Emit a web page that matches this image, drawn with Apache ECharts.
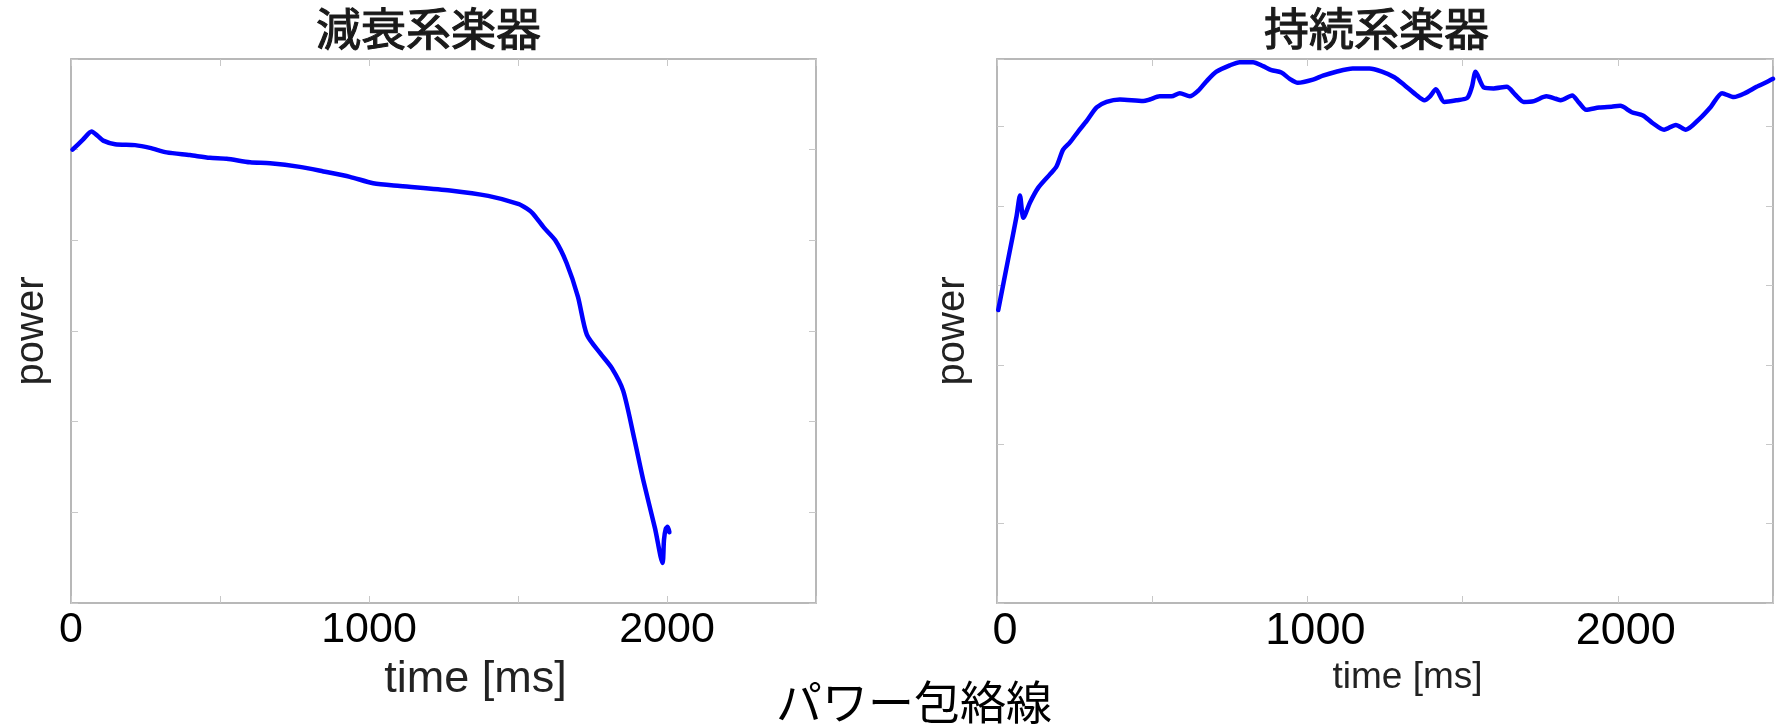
<!DOCTYPE html>
<html>
<head>
<meta charset="utf-8">
<script src="https://cdn.jsdelivr.net/npm/echarts@6/dist/echarts.min.js"></script>
<style>
html,body{margin:0;padding:0;background:#fff;}
#c{width:1776px;height:725px;}
</style>
</head>
<body>
<div id="c"></div>
<script>
// ---- data ----
const leftTitle = '減衰系楽器';
const rightTitle = '持続系楽器';
const mainTitle = 'パワー包絡線';
const xName = 'time [ms]';
const yName = 'power';
const xTicks = [0, 500, 1000, 1500, 2000, 2500];
const xLabelValues = [0, 1000, 2000];

const decayTime  = [5, 40, 69, 90, 108, 148, 215, 265, 321, 399, 466, 522, 601, 668, 768, 847, 936, 1014, 1104, 1272, 1400, 1503, 1530, 1549, 1587, 1625, 1663, 1701, 1731, 1777, 1815, 1853, 1891, 1920, 1960, 1985, 1990, 1996, 2002, 2008];
const decayPower = [5.00, 5.11, 5.20, 5.15, 5.10, 5.06, 5.05, 5.02, 4.97, 4.94, 4.91, 4.90, 4.86, 4.85, 4.81, 4.76, 4.70, 4.63, 4.60, 4.55, 4.49, 4.40, 4.35, 4.30, 4.14, 4.00, 3.75, 3.38, 2.96, 2.75, 2.59, 2.34, 1.80, 1.36, 0.82, 0.44, 0.70, 0.82, 0.84, 0.78];

const sustainTime  = [4, 36, 63, 74, 85, 106, 133, 171, 192, 213, 235, 262, 289, 321, 353, 396, 471, 492, 524, 562, 589, 621, 648, 675, 707, 750, 782, 825, 857, 884, 916, 943, 969, 1018, 1050, 1093, 1146, 1200, 1240, 1280, 1313, 1350, 1377, 1395, 1414, 1441, 1480, 1515, 1530, 1542, 1569, 1600, 1642, 1670, 1697, 1730, 1770, 1800, 1816, 1853, 1875, 1898, 1940, 1980, 2008, 2045, 2081, 2110, 2149, 2187, 2219, 2264, 2300, 2336, 2374, 2410, 2447, 2480, 2500];
const sustainPower = [3.69, 4.33, 4.87, 5.13, 4.85, 5.04, 5.23, 5.40, 5.50, 5.71, 5.80, 5.94, 6.07, 6.24, 6.31, 6.34, 6.32, 6.34, 6.38, 6.38, 6.42, 6.38, 6.45, 6.57, 6.69, 6.77, 6.81, 6.81, 6.76, 6.71, 6.68, 6.60, 6.55, 6.59, 6.64, 6.69, 6.73, 6.73, 6.69, 6.62, 6.52, 6.40, 6.33, 6.38, 6.47, 6.31, 6.33, 6.36, 6.50, 6.69, 6.49, 6.48, 6.50, 6.40, 6.31, 6.32, 6.38, 6.35, 6.33, 6.39, 6.30, 6.21, 6.24, 6.25, 6.26, 6.18, 6.14, 6.05, 5.96, 6.02, 5.96, 6.10, 6.25, 6.42, 6.37, 6.42, 6.50, 6.56, 6.60];

const leftYMax = 6;
const rightYMax = 6.85;

// ---- chart ----
const latin = '"Liberation Sans", Arial, Helvetica, sans-serif';
const cjk = '"Noto Sans CJK JP", "Noto Sans CJK SC", sans-serif';
const boxColor = '#b8b8b8';
const tickColor = '#c8c8c8';

function xAxisPair(grid, labelSize, labelPad, nameSize, nameGap, namePad) {
  const base = {
    type: 'value', gridIndex: grid, min: xTicks[0], max: xTicks[xTicks.length - 1],
    interval: xTicks[1] - xTicks[0],
    splitLine: {show: false},
    axisLine: {show: true, onZero: false, lineStyle: {color: boxColor, width: 2}},
    axisTick: {show: true, inside: true, length: 7, lineStyle: {color: tickColor, width: 1}}
  };
  return [
    Object.assign({}, base, {
      position: 'bottom',
      axisLabel: {
        show: true, margin: 6, fontSize: labelSize, fontFamily: latin, color: '#000',
        padding: [0, 0, 0, labelPad],
        formatter: v => xLabelValues.indexOf(v) >= 0 ? String(v) : ''
      },
      name: xName, nameLocation: 'middle', nameGap: nameGap,
      nameTextStyle: {fontSize: nameSize, fontFamily: latin, color: '#222', padding: [0, 0, 0, namePad]}
    }),
    Object.assign({}, base, {position: 'top', axisLabel: {show: false}})
  ];
}

function yAxisPair(grid, max, nameSize, nameGap) {
  const base = {
    type: 'value', gridIndex: grid, min: 0, max: max, interval: 1,
    splitLine: {show: false},
    axisLabel: {show: false},
    axisLine: {show: true, onZero: false, lineStyle: {color: boxColor, width: 2}},
    axisTick: {show: true, inside: true, length: 7, lineStyle: {color: tickColor, width: 1}}
  };
  return [
    Object.assign({}, base, {
      position: 'left',
      name: yName, nameLocation: 'middle', nameGap: nameGap,
      nameTextStyle: {fontSize: nameSize, fontFamily: latin, color: '#222'}
    }),
    Object.assign({}, base, {position: 'right'})
  ];
}

function pairs(xs, ys) { return xs.map((x, i) => [x, ys[i]]); }

const lineStyle = {color: '#0000ff', width: 4.5, cap: 'round', join: 'round'};
const subTitleStyle = {fontSize: 45, fontFamily: cjk, color: '#1a1a1a', fontWeight: 'normal',
                       textBorderColor: '#1a1a1a', textBorderWidth: 1.1};

const option = {
  animation: false,
  backgroundColor: '#ffffff',
  title: [
    {text: leftTitle, left: 316, top: 6, padding: 0, textStyle: subTitleStyle},
    {text: rightTitle, left: 1264, top: 6, padding: 0, textStyle: subTitleStyle},
    {text: mainTitle, left: 776, top: 679, padding: 0,
     textStyle: {fontSize: 46, fontFamily: cjk, color: '#000', fontWeight: 'normal'}}
  ],
  grid: [
    {left: 71, top: 59, width: 745, height: 544, containLabel: false},
    {left: 997, top: 59, width: 777, height: 544, containLabel: false}
  ],
  xAxis: [].concat(
    xAxisPair(0, 43, 0, 45, 39, 64),
    xAxisPair(1, 45, 16, 37, 44, 45)
  ),
  yAxis: [].concat(
    yAxisPair(0, leftYMax, 40, 19),
    yAxisPair(1, rightYMax, 40, 24)
  ),
  series: [
    {type: 'line', name: leftTitle, xAxisIndex: 0, yAxisIndex: 0,
     data: pairs(decayTime, decayPower), showSymbol: false, symbol: 'none',
     smooth: 0.25, lineStyle: lineStyle, silent: true},
    {type: 'line', name: rightTitle, xAxisIndex: 2, yAxisIndex: 2,
     data: pairs(sustainTime, sustainPower), showSymbol: false, symbol: 'none',
     smooth: 0.25, lineStyle: lineStyle, silent: true}
  ]
};

const chart = echarts.init(document.getElementById('c'), null, {renderer: 'canvas'});
chart.setOption(option);
</script>
</body>
</html>
